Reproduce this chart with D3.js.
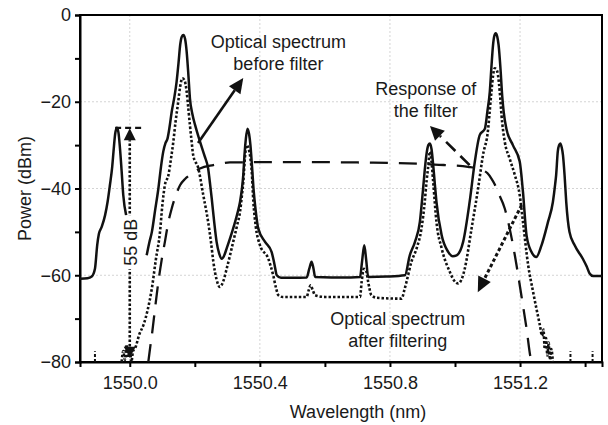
<!DOCTYPE html>
<head>
  <meta charset="utf-8">
  <script src="https://d3js.org/d3.v7.min.js"></script>
  <style>
    body { margin:0; background:#fff; font-family: "Liberation Sans", Arial, Helvetica, sans-serif; }
    text { fill:#1a1a1a; font-family: "Liberation Sans", Arial, Helvetica, sans-serif; }
    .axis path, .axis line { fill:none; stroke:#000; stroke-width:2px; }
    .axis text { font-size:18px; }
    .grid line { stroke:#d4d4d4; stroke-width:1px; stroke-dasharray:2,2; }
  </style>
</head>
<body>
<script>

// values: [wavelength (nm), power (dBm)]
var spectrumBefore = [
  [1549.847,-60.8],[1549.870,-60.7],[1549.883,-60.3],[1549.893,-58.5],[1549.900,-53],[1549.905,-50.5],
  [1549.914,-48.8],[1549.924,-46.2],[1549.932,-43],[1549.939,-39.2],[1549.946,-35],[1549.950,-31.5],
  [1549.955,-27.5],[1549.960,-26.0],[1549.965,-27],[1549.970,-30.8],[1549.975,-36],[1549.980,-41.5],
  [1549.989,-46.2], null,
  [1550.052,-55.4],[1550.060,-52.5],[1550.068,-50],[1550.078,-45],[1550.088,-40],[1550.096,-35],
  [1550.103,-31.5],[1550.110,-29.5],[1550.116,-28.5],[1550.122,-26],[1550.129,-22.3],[1550.137,-19],
  [1550.144,-15.4],[1550.150,-11],[1550.155,-6.9],[1550.160,-5],[1550.165,-4.6],[1550.170,-5.5],
  [1550.175,-8.5],[1550.180,-13.5],[1550.185,-19.2],[1550.193,-23],[1550.201,-25.4],[1550.216,-29.2],
  [1550.230,-32.5],[1550.241,-35.4],[1550.247,-39],[1550.252,-42.3],[1550.260,-48],[1550.267,-52.3],
  [1550.275,-55],[1550.283,-56.2],[1550.290,-55.5],[1550.298,-53.8],[1550.318,-49.2],[1550.330,-46],
  [1550.339,-43.1],[1550.345,-40],[1550.349,-36.9],[1550.353,-32],[1550.357,-28.5],[1550.362,-26.2],
  [1550.367,-27.5],[1550.371,-30],[1550.376,-35],[1550.381,-40.5],[1550.387,-45],[1550.395,-49.2],
  [1550.416,-52.3],[1550.436,-54.6],[1550.445,-57.5],[1550.452,-60],[1550.465,-60.6],[1550.500,-60.6],
  [1550.544,-60.5],[1550.552,-58.5],[1550.559,-56.9],[1550.565,-58.5],[1550.570,-60.4],[1550.620,-60.5],
  [1550.680,-60.5],[1550.708,-60.4],[1550.714,-57],[1550.721,-53.1],[1550.727,-56.5],[1550.733,-60.4],
  [1550.790,-60.3],[1550.846,-60],[1550.861,-55.4],[1550.877,-52.3],[1550.892,-47.7],[1550.902,-40],
  [1550.908,-35],[1550.912,-32.3],[1550.918,-30],[1550.923,-29.6],[1550.928,-31],[1550.933,-34.6],
  [1550.938,-39],[1550.943,-43.1],[1550.959,-50.8],[1550.979,-54.6],[1550.993,-55.6],[1551.005,-55.4],
  [1551.025,-52.3],[1551.045,-43.1],[1551.061,-33.8],[1551.076,-27.7],[1551.092,-26.2],[1551.100,-22],
  [1551.107,-17.7],[1551.112,-12],[1551.117,-6.9],[1551.121,-4.8],[1551.125,-4.2],[1551.130,-5],
  [1551.134,-6.9],[1551.140,-12.5],[1551.145,-18.5],[1551.150,-22.5],[1551.158,-26.2],[1551.178,-30],
  [1551.199,-33.8],[1551.209,-40.8],[1551.220,-50.8],[1551.235,-54.6],[1551.250,-55.8],[1551.266,-53.1],
  [1551.286,-47.7],[1551.301,-43.1],[1551.308,-39],[1551.311,-36.9],[1551.316,-31.5],[1551.320,-30],
  [1551.324,-29.6],[1551.328,-30.5],[1551.332,-32.3],[1551.337,-37],[1551.342,-43.1],[1551.352,-50],
  [1551.368,-53.1],[1551.393,-56.2],[1551.405,-58],[1551.414,-59.6],[1551.425,-60.2],[1551.452,-60.2]
];

var spectrumAfter = [
  [1549.975,-80],[1549.980,-77.5],[1549.985,-79.5],[1549.990,-76],[1549.995,-79],[1550.000,-77],
  [1550.005,-80],[1550.010,-77.5],[1550.016,-76.9],[1550.030,-73.5],[1550.042,-71.5],[1550.055,-68],
  [1550.068,-63],[1550.080,-56.5],[1550.093,-50],[1550.100,-44],[1550.108,-39.2],[1550.119,-36.9],
  [1550.127,-33],[1550.134,-29.2],[1550.141,-24.5],[1550.149,-20],[1550.155,-16.5],[1550.162,-14.6],
  [1550.168,-15],[1550.175,-17.7],[1550.180,-21.5],[1550.185,-25.4],[1550.190,-29],[1550.195,-32.3],
  [1550.211,-35.4],[1550.226,-41.5],[1550.241,-47.7],[1550.250,-52.5],[1550.257,-56.9],[1550.267,-61],
  [1550.277,-62.7],[1550.287,-61.5],[1550.298,-58.5],[1550.318,-52.3],[1550.330,-48.5],[1550.339,-45.4],
  [1550.345,-41.5],[1550.349,-38.5],[1550.354,-33],[1550.359,-30],[1550.364,-30.5],[1550.370,-32.5],
  [1550.375,-36],[1550.380,-43],[1550.387,-48.5],[1550.400,-53],[1550.426,-56.2],[1550.441,-60],
  [1550.450,-63],[1550.457,-64.6],[1550.470,-65],[1550.544,-65],[1550.550,-63.5],[1550.556,-62.3],
  [1550.562,-63.3],[1550.570,-64.6],[1550.600,-65],[1550.708,-65],[1550.713,-61.5],[1550.720,-58.5],
  [1550.727,-59],[1550.733,-61.5],[1550.743,-64.6],[1550.760,-65.2],[1550.836,-65.4],[1550.844,-63.5],
  [1550.851,-61.5],[1550.866,-56.9],[1550.882,-53.8],[1550.897,-49.2],[1550.907,-43.1],[1550.913,-38],
  [1550.917,-35.4],[1550.923,-31.5],[1550.928,-34],[1550.933,-38.5],[1550.943,-47.7],[1550.959,-53.8],
  [1550.984,-59.2],[1550.997,-61.2],[1551.010,-61.9],[1551.020,-61],[1551.030,-58.5],[1551.051,-49.2],
  [1551.071,-40],[1551.086,-32.3],[1551.102,-26.2],[1551.107,-22],[1551.112,-17.7],[1551.117,-14],
  [1551.122,-12.3],[1551.127,-12.5],[1551.132,-13.8],[1551.138,-18],[1551.143,-23.1],[1551.153,-29.2],
  [1551.168,-33.1],[1551.184,-36.9],[1551.199,-41.5],[1551.209,-47.7],[1551.225,-57.7],[1551.240,-63.8],
  [1551.261,-71.5],[1551.268,-74],[1551.272,-72.5],[1551.276,-77],[1551.280,-74.5],[1551.284,-78.5],
  [1551.288,-75.5],[1551.292,-79.5],[1551.296,-77],[1551.301,-80]
];

var filterResponse = [
  [1550.057,-80],[1550.063,-76.5],[1550.068,-73.8],[1550.078,-67.5],[1550.088,-61.5],[1550.098,-56.5],
  [1550.108,-52.3],[1550.118,-48],[1550.129,-44.6],[1550.142,-41.5],[1550.155,-39.2],[1550.170,-37.8],
  [1550.185,-36.9],[1550.216,-35.4],[1550.257,-34.6],[1550.308,-34],[1550.500,-33.9],[1550.700,-34],
  [1550.900,-34.3],[1550.969,-34.6],[1551.040,-35],[1551.086,-35.8],[1551.100,-36.5],[1551.112,-37.7],
  [1551.122,-39],[1551.132,-40.8],[1551.153,-44.6],[1551.168,-49.2],[1551.184,-55.4],[1551.204,-64.6],
  [1551.220,-72.3],[1551.233,-79.2],[1551.236,-80]
];

// little noise spikes on the floor
var floorSpikes = [1549.893, 1551.355, 1551.423];

var xTicks = [1550.0, 1550.2, 1550.4, 1550.6, 1550.8, 1551.0, 1551.2, 1551.4];
var xLabels = [1550.0, 1550.4, 1550.8, 1551.2];
var yTicks = [0, -10, -20, -30, -40, -50, -60, -70, -80];
var yLabels = [0, -20, -40, -60, -80];

var margin = {top: 15, right: 6, bottom: 63, left: 80},
    width = 608 - margin.left - margin.right,
    height = 425 - margin.top - margin.bottom;

var svg = d3.select("body").append("svg")
    .attr("width", 608)
    .attr("height", 425)
  .append("g")
    .attr("transform", "translate(" + margin.left + "," + margin.top + ")");

var x = d3.scaleLinear().domain([1549.847, 1551.452]).range([0, width]);
var y = d3.scaleLinear().domain([-80, 0]).range([height, 0]);

// faint grid
svg.append("g").attr("class", "grid")
    .selectAll("line").data(xLabels).enter().append("line")
    .attr("x1", d => x(d)).attr("x2", d => x(d)).attr("y1", 0).attr("y2", height);
svg.append("g").attr("class", "grid")
    .selectAll("line").data([-20, -40, -60]).enter().append("line")
    .attr("x1", 0).attr("x2", width).attr("y1", d => y(d)).attr("y2", d => y(d));

var minus = v => v < 0 ? "\u2212" + Math.abs(v) : "" + v;

var xAxis = d3.axisBottom(x).tickValues(xTicks).tickSize(5).tickPadding(9)
    .tickFormat(d => xLabels.some(l => Math.abs(l - d) < 1e-6) ? d3.format(".1f")(d) : "");
var yAxis = d3.axisLeft(y).tickValues(yTicks).tickSize(5).tickPadding(4)
    .tickFormat(d => yLabels.indexOf(d) >= 0 ? minus(d) : "");

svg.append("g").attr("class", "x axis")
    .attr("transform", "translate(0," + height + ")")
    .call(xAxis);
svg.append("g").attr("class", "y axis").call(yAxis);

svg.append("rect")
    .attr("width", width).attr("height", height)
    .style("fill", "none").style("stroke", "#000").style("stroke-width", 2);

var line = d3.line()
    .defined(d => d !== null)
    .x(d => x(d[0]))
    .y(d => y(d[1]))
    .curve(d3.curveMonotoneX);

svg.append("path").datum(filterResponse)
    .attr("d", line)
    .style("fill", "none").style("stroke", "#111").style("stroke-width", 2.3)
    .style("stroke-dasharray", "18,11");

svg.append("path").datum(spectrumAfter)
    .attr("d", line)
    .style("fill", "none").style("stroke", "#111").style("stroke-width", 2.6)
    .style("stroke-dasharray", "2.5,2");

svg.append("path").datum(spectrumBefore)
    .attr("d", line)
    .style("fill", "none").style("stroke", "#111").style("stroke-width", 2.5);

svg.selectAll(".spike").data(floorSpikes).enter().append("line")
    .attr("class", "spike")
    .attr("x1", d => x(d)).attr("x2", d => x(d))
    .attr("y1", y(-80)).attr("y2", y(-77.5))
    .style("stroke", "#111").style("stroke-width", 2).style("stroke-dasharray", "3,2");

// arrow helper, ends given in data units
function arrow(w1, p1, w2, p2, dash, width, head, half) {
    var x1 = x(w1), y1 = y(p1), x2 = x(w2), y2 = y(p2);
    var a = Math.atan2(y2 - y1, x2 - x1);
    var bx = x2 - head * Math.cos(a), by = y2 - head * Math.sin(a);
    svg.append("line")
        .attr("x1", x1).attr("y1", y1).attr("x2", bx).attr("y2", by)
        .style("stroke", "#111").style("stroke-width", width)
        .style("stroke-dasharray", dash);
    svg.append("path")
        .attr("d", "M" + x2 + "," + y2 +
            "L" + (bx + half * Math.sin(a)) + "," + (by - half * Math.cos(a)) +
            "L" + (bx - half * Math.sin(a)) + "," + (by + half * Math.cos(a)) + "Z")
        .style("fill", "#111");
}

arrow(1550.210, -29.5, 1550.349, -14.5, null, 2.6, 15, 7);
arrow(1551.045, -34.6, 1550.923, -25.6, "13,7", 2.6, 14, 7);
arrow(1551.205, -43.8, 1551.070, -63.9, "3.5,2.5", 3, 15, 7);

// 55 dB marker
svg.append("line")
    .attr("x1", x(1549.955)).attr("x2", x(1550.035))
    .attr("y1", y(-26)).attr("y2", y(-26))
    .style("stroke", "#111").style("stroke-width", 2.2).style("stroke-dasharray", "6,4");
arrow(1550.0, -52, 1550.0, -26.1, "2.5,2", 2.6, 12, 6);
arrow(1550.0, -52, 1550.0, -79, "2.5,2", 2.6, 11, 6);

var dbLabel = svg.append("g")
    .attr("transform", "translate(" + (x(1550.0) + 1) + "," + y(-52.4) + ") rotate(-90)");
dbLabel.append("rect")
    .attr("x", -27).attr("y", -9).attr("width", 54).attr("height", 18)
    .style("fill", "#fff");
dbLabel.append("text")
    .attr("text-anchor", "middle").attr("dy", "0.35em")
    .style("font-size", "18px")
    .text("55 dB");

// annotation text
function label(w, p, lines) {
    var t = svg.append("text")
        .attr("x", x(w)).attr("y", y(p))
        .attr("text-anchor", "middle")
        .style("font-size", "18px");
    lines.forEach((s, i) => {
        t.append("tspan").attr("x", x(w)).attr("dy", i === 0 ? 0 : 22).text(s);
    });
}
label(1550.457, -7.6, ["Optical spectrum", "before filter"]);
label(1550.910, -18.5, ["Response of", "the filter"]);
label(1550.824, -71.5, ["Optical spectrum", "after filtering"]);

svg.append("text")
    .attr("x", 278).attr("y", height + 56)
    .attr("text-anchor", "middle")
    .style("font-size", "18px")
    .text("Wavelength (nm)");

svg.append("text")
    .attr("transform", "translate(-49," + (height / 2) + ") rotate(-90)")
    .attr("text-anchor", "middle")
    .style("font-size", "18px")
    .text("Power (dBm)");

</script>
</body>
